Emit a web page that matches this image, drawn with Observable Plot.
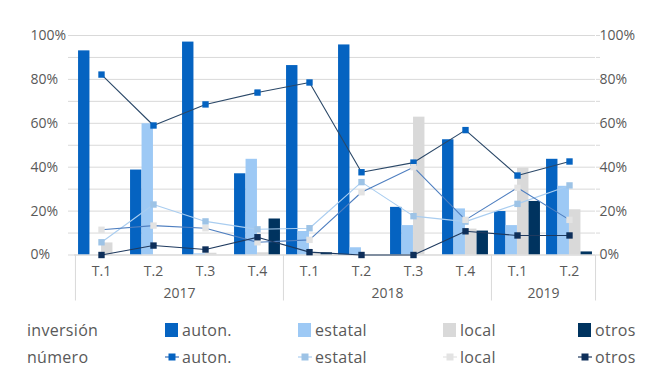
<!DOCTYPE html>
<html><head><meta charset="utf-8">
<script src="https://cdn.jsdelivr.net/npm/d3@7"></script>
<script src="https://cdn.jsdelivr.net/npm/@observablehq/plot@0.6"></script>
<style>
body{margin:0;background:#fff;font-family:"Open Sans",sans-serif;}
#wrap{position:relative;width:663px;height:383px;overflow:hidden;}
#chart{position:absolute;left:0;top:0;}
.lg{position:absolute;font-size:16px;color:#595959;line-height:20px;white-space:nowrap;letter-spacing:0.3px;}
</style>
</head><body>
<div id="wrap"><div id="chart"></div><div id="legend"></div></div>
<script>
// ---- data ----
const years   = ["2017","2017","2017","2017","2018","2018","2018","2018","2019","2019"];
const periods = ["T.1","T.2","T.3","T.4","T.1","T.2","T.3","T.4","T.1","T.2"];
const seriesNames = ["auton.","estatal","local","otros"];
// inversión (bars, %)
const invAuton   = [93, 38.7, 97, 37, 86.3, 95.7, 21.7, 52.5, 19.8, 43.6];
const invEstatal = [0, 59.8, 0.5, 43.6, 10.7, 3.3, 13.4, 21, 13.4, 31.3];
const invLocal   = [5.5, 0, 0.8, 1, 1, 0, 62.8, 11.8, 39.5, 20.6];
const invOtros   = [0, 0, 0, 16.4, 1, 0, 0, 10.9, 24.4, 1.4];
// número (lines, %)
const numAuton   = [82.2, 59, 68.6, 74, 78.6, 37.7, 42.1, 56.9, 36.2, 42.6];
const numEstatal = [5.8, 23, 15.3, 11.7, 12.2, 33.2, 17.7, 15.2, 23.3, 31.7];
const numLocal   = [11.5, 13.4, 12.2, 5.8, 6.9, 28.6, 40, 16, 30.6, 16];
const numOtros   = [0, 4.3, 2.5, 8.1, 1.3, 0, 0, 10.8, 8.9, 8.9];
const yTicks = [0,10,20,30,40,50,60,70,80,90,100];

// ---- styles ----
const barColors  = ["#0563c1","#9dc9f5","#d9d9d9","#00335f"];
const dotColors  = ["#0563c1","#9dc3e6","#e3e3e3","#0e2f5a"];
const lineColors = ["#2b4868","#a9cdf0","#4f7fc0","#1f3a5f"];
const legendLine = ["#3a6fb5","#a9cdf0","#e3e3e3","#1f3a5f"];
const txt = "#595959", grid = "#d9d9d9";

const W = 663, H = 320, mL = 74, mR = 68, mT = 35, mB = 65.5;
const keys = years.map((y,i) => y + " " + periods[i]);
const bw = (W - mL - mR) / keys.length;
const barW = 11.5, gpad = (bw - 4*barW) / 2;
const inv = [invAuton, invEstatal, invLocal, invOtros];
const num = [numAuton, numEstatal, numLocal, numOtros];
const rows = arr => keys.map((k,i) => ({k, v: arr[i]}));

const firstOfYear = keys.filter((k,i) => i === 0 || years[i] !== years[i-1]);
const lastKey = [keys[keys.length-1]];
const yearGroups = d3.groups(keys.map((k,i)=>({k,y:years[i]})), d => d.y);
const yearLabels = yearGroups.map(([y, arr]) => ({y, k: arr[arr.length/2 - 1].k}));

const plot = Plot.plot({
  width: W, height: H,
  marginLeft: mL, marginRight: mR, marginTop: mT, marginBottom: mB,
  style: {fontFamily: '"Open Sans", sans-serif', fontSize: "14px", color: txt, background: "#fff"},
  x: {type: "band", domain: keys, padding: 0, axis: null},
  y: {domain: [0, 100], axis: null},
  marks: [
    Plot.gridY(yTicks, {stroke: grid, strokeOpacity: 1}),
    Plot.axisY(yTicks, {anchor: "left", tickSize: 6, tickPadding: 38, textAnchor: "start",
      tickFormat: d => d % 20 === 0 ? d + "%" : "", stroke: grid, color: txt, label: null, fontSize: 14}),
    Plot.axisY(yTicks, {anchor: "right", tickSize: 4, tickPadding: 0,
      tickFormat: d => d % 20 === 0 ? d + "%" : "", stroke: grid, color: txt, label: null, fontSize: 14}),
    ...inv.map((arr, j) => Plot.barY(rows(arr), {x: "k", y: "v", fill: barColors[j],
      insetLeft: gpad + j*barW, insetRight: gpad + (3-j)*barW})),
    Plot.ruleY([0], {stroke: grid}),
    Plot.ruleX(firstOfYear, {x: d => d, dx: -bw/2, stroke: grid, insetTop: H - mT - mB, insetBottom: -46}),
    Plot.ruleX(lastKey, {x: d => d, dx: bw/2, stroke: grid, insetTop: H - mT - mB, insetBottom: -46}),
    Plot.axisX(keys, {anchor: "bottom", tickSize: 0, tickPadding: 11, tickFormat: k => k.split(" ")[1],
      color: txt, label: null, fontSize: 14}),
    Plot.text(yearLabels, {x: "k", text: "y", frameAnchor: "bottom", dx: bw/2, dy: 43, fill: txt, fontSize: 14}),
    ...num.map((arr, j) => Plot.line(rows(arr), {x: "k", y: "v", stroke: lineColors[j], strokeWidth: 1.1})),
    ...num.map((arr, j) => Plot.dot(rows(arr), {x: "k", y: "v", symbol: "square", r: 3.6, fill: dotColors[j], stroke: "none"}))
  ]
});
document.getElementById("chart").appendChild(plot);

// ---- legend ----
const lg = document.getElementById("legend");
const itemX = [165, 298, 443, 578];
const rowY = [320, 347];
function add(html, x, y){ const d = document.createElement("div"); d.className = "lg"; d.style.left = x+"px"; d.style.top = y+"px"; d.innerHTML = html; lg.appendChild(d); }
add("inversión", 27, rowY[0]);
add("número", 27, rowY[1]);
seriesNames.forEach((s, j) => {
  add(`<svg width="13" height="14" style="position:absolute;left:0;top:3px"><rect width="13" height="14" fill="${barColors[j]}"/></svg><span style="margin-left:17px">${s}</span>`, itemX[j], rowY[0]);
  add(`<svg width="14" height="14" style="position:absolute;left:0;top:3px"><line x1="0" x2="14" y1="7" y2="7" stroke="${legendLine[j]}" stroke-width="1.2"/><rect x="3.5" y="3.5" width="7" height="7" fill="${dotColors[j]}"/></svg><span style="margin-left:17px">${s}</span>`, itemX[j], rowY[1]);
});
</script>
</body></html>
